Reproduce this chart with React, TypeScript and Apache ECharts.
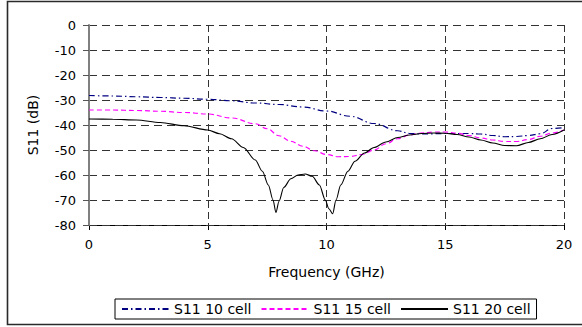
import React, { useEffect, useRef } from "react";
import * as echarts from "echarts";

// Frequency sample points (GHz) and return loss S11 (dB) for each cell count
const freq10: number[] = [0, 1, 2, 3, 4, 5, 6, 7, 8, 9, 10, 11, 12, 13, 13.5, 14, 15, 16, 16.5, 17, 17.5, 18, 18.5, 19, 19.5, 20];
const s11Cell10: number[] = [-28.2, -28.4, -28.7, -29, -29.3, -29.7, -30.3, -31.2, -31.8, -32.8, -34.4, -36.5, -39.4, -42.3, -43.4, -43.6, -43.4, -43.4, -43.6, -44.2, -44.7, -44.6, -44.2, -43.5, -41.4, -41];

const freq15: number[] = [0, 1, 2, 3, 4, 5, 6, 7, 7.5, 8, 8.5, 9, 9.5, 10, 10.5, 11, 11.5, 12, 12.5, 13, 13.5, 14, 14.5, 15, 15.5, 16, 16.5, 17, 17.5, 18, 18.5, 19, 19.5, 20];
const s11Cell15: number[] = [-34, -34, -34.2, -34.5, -35, -35.6, -37.2, -39.5, -41.5, -44.3, -46.5, -48.5, -50.3, -51.8, -52.7, -52.6, -51.8, -50, -47.5, -45.5, -44, -43.2, -42.8, -42.8, -43.3, -44.2, -45.2, -46, -46.6, -46.6, -45.8, -44.5, -43.2, -42];

const freq20: number[] = [0, 1, 2, 3, 4, 5, 5.5, 6, 6.5, 7, 7.3, 7.55, 7.75, 7.87, 8, 8.2, 8.5, 8.8, 9.1, 9.4, 9.7, 9.95, 10.1, 10.26, 10.4, 10.6, 10.9, 11.2, 11.6, 12, 12.5, 13, 13.5, 14, 14.5, 15, 15.5, 16, 16.5, 17, 17.5, 18, 18.5, 19, 19.5, 20];
const s11Cell20: number[] = [-37.6, -37.7, -38, -39, -40.3, -42, -43.5, -45.5, -49, -54, -58.5, -64, -70, -75, -70.5, -65, -61.5, -60, -59.6, -60.5, -64, -70, -73.5, -75.5, -70, -64, -58.5, -54.5, -51.2, -49, -46.8, -45, -44, -43.4, -43.2, -43.3, -43.8, -44.8, -46, -47.2, -48.2, -48.3, -47, -45.5, -43.8, -42];

const seriesNames: string[] = ["S11 10 cell", "S11 15 cell", "S11 20 cell"];
const xTicks: number[] = [0, 5, 10, 15, 20];
const yTicks: number[] = [-80, -70, -60, -50, -40, -30, -20, -10, 0];

const pairs = (xs: number[], ys: number[]) => xs.map((x, i) => [x, ys[i]]);

const FONT = "DejaVu Sans";

export default function App() {
  const ref = useRef<HTMLDivElement>(null);

  useEffect(() => {
    if (!ref.current) return;
    const chart = echarts.init(ref.current, undefined, { renderer: "svg" });
    chart.setOption({
      animation: false,
      backgroundColor: "#ffffff",
      textStyle: { fontFamily: FONT },
      grid: { left: 89, top: 25, right: 18, bottom: 102 },
      graphic: [
        {
          type: "rect",
          shape: { x: 7.5, y: 1.5, width: 600, height: 323 },
          style: { fill: "none", stroke: "#2a2a2a", lineWidth: 1.6 },
          silent: true,
          z: 10,
        },
      ],
      legend: {
        left: 115,
        top: 299,
        orient: "horizontal",
        padding: [3, 6],
        itemGap: 9,
        itemWidth: 47,
        itemHeight: 12,
        borderColor: "#000",
        borderWidth: 1,
        backgroundColor: "#fff",
        itemStyle: { opacity: 0 },
        textStyle: { fontFamily: FONT, fontSize: 14, color: "#000" },
        data: seriesNames,
        selectedMode: false,
      },
      xAxis: {
        type: "value",
        min: xTicks[0],
        max: xTicks[xTicks.length - 1],
        interval: 5,
        z: 2,
        name: "Frequency (GHz)",
        nameLocation: "middle",
        nameGap: 40,
        nameTextStyle: { fontFamily: FONT, fontSize: 14, color: "#000" },
        axisLine: { onZero: false, lineStyle: { color: "#000", width: 1 } },
        axisTick: { show: true, length: 5, lineStyle: { color: "#000" } },
        axisLabel: { margin: 13, fontFamily: FONT, fontSize: 13, color: "#000" },
        splitLine: { show: true, lineStyle: { color: "#333", type: [7, 4], width: 1 } },
      },
      yAxis: {
        type: "value",
        min: yTicks[0],
        max: yTicks[yTicks.length - 1],
        interval: 10,
        z: 3,
        name: "S11 (dB)",
        nameLocation: "middle",
        nameGap: 49,
        nameTextStyle: { fontFamily: FONT, fontSize: 14, color: "#000" },
        axisLine: { show: true, onZero: false, lineStyle: { color: "#808080", width: 2 } },
        axisTick: { show: true, length: 6, lineStyle: { color: "#555" } },
        axisLabel: { margin: 13, fontFamily: FONT, fontSize: 13, color: "#000" },
        splitLine: { show: true, lineStyle: { color: "#333", type: [8, 5], width: 1 } },
      },
      series: [
        {
          name: seriesNames[0],
          type: "line",
          data: pairs(freq10, s11Cell10),
          showSymbol: false,
          symbol: "none",
          smooth: 0.4,
          smoothMonotone: "x",
          lineStyle: { color: "#000080", width: 1.2, type: [6, 3, 1.5, 3] },
          itemStyle: { color: "#000080" },
          z: 3,
        },
        {
          name: seriesNames[1],
          type: "line",
          data: pairs(freq15, s11Cell15),
          showSymbol: false,
          symbol: "none",
          smooth: 0.4,
          smoothMonotone: "x",
          lineStyle: { color: "#ff00ff", width: 1.2, type: [5, 3] },
          itemStyle: { color: "#ff00ff" },
          z: 4,
        },
        {
          name: seriesNames[2],
          type: "line",
          data: pairs(freq20, s11Cell20),
          showSymbol: false,
          symbol: "none",
          smooth: 0.3,
          smoothMonotone: "x",
          lineStyle: { color: "#000000", width: 1.1, type: "solid" },
          itemStyle: { color: "#000000" },
          z: 5,
        },
      ],
    });
    return () => chart.dispose();
  }, []);

  return (
    <div
      ref={ref}
      style={{ position: "fixed", left: 0, top: 0, width: 582, height: 327, background: "#fff" }}
    />
  );
}
